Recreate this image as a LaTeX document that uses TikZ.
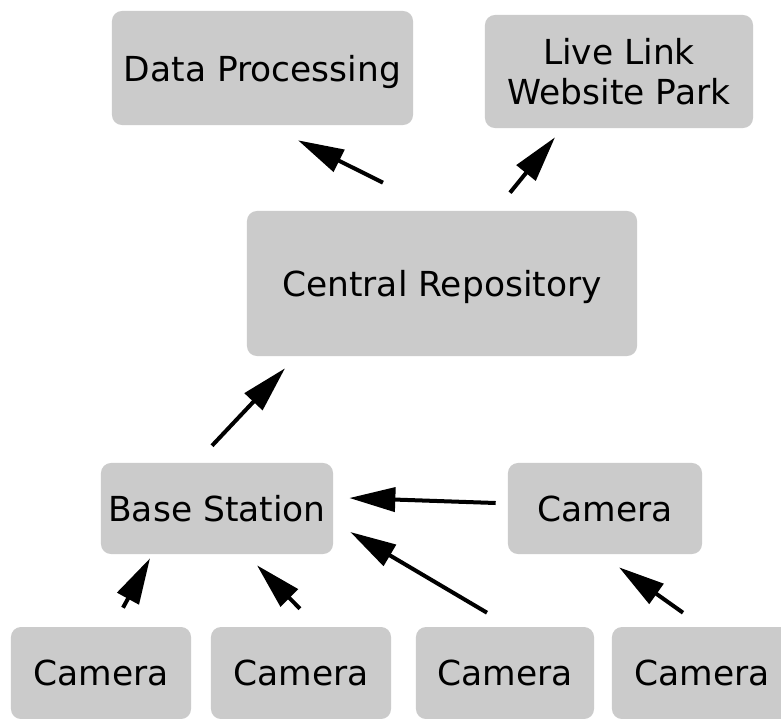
\documentclass[tikz,border=0pt]{standalone}
\usepackage{fontspec}
\setmainfont{DejaVu Sans}
\usepackage{tikz}
\usetikzlibrary{calc,positioning,arrows.meta}
\definecolor{boxgray}{HTML}{CBCBCB}
\tikzset{
	punkt/.style={
		rectangle,
		rounded corners=0.25cm,
		fill=boxgray,
		draw=none,
		minimum height=2.275cm,
		align=center,
		inner sep=0pt,
		text depth=0pt,
		font=\fontsize{24.5}{28.5}\selectfont},
	line/.style={draw, line width=0.1cm, -{Triangle[length=1.15cm,width=0.6cm]}},
}

\begin{document}
\begin{tikzpicture}
			[x=0.025cm, y=-0.025cm]
			\useasboundingbox (0,0) rectangle (781,718);
			% top row
			\node[punkt, minimum width=7.525cm, minimum height=2.85cm] (data) at (262.5,68) {Data Processing};
			\node[punkt, text depth=, minimum width=6.7cm, minimum height=2.825cm] (live) at (619,71.5) {Live Link\\Website Park};
			\node[punkt, minimum width=9.75cm, minimum height=3.625cm] (repo) at (442,283.5) {Central Repository};
			% stations
			\node[punkt, minimum width=5.8cm] (base) at (217,508.5) {Base Station};
			\node[punkt, minimum width=4.85cm] (camr) at (605,508.5) {Camera};
			% bottom row
			\node[punkt, minimum width=4.5cm, minimum height=2.3cm] (cam1) at (101,673) {Camera};
			\node[punkt, minimum width=4.5cm, minimum height=2.3cm] (cam2) at (301,673) {Camera};
			\node[punkt, minimum width=4.45cm, minimum height=2.3cm] (cam3) at (505,673) {Camera};
			\node[punkt, minimum width=4.5cm, minimum height=2.3cm] (cam4) at (702,673) {Camera};
			
			\draw[line] ($(repo.north)+(-59,-28)$) -- ($(data.south)+(35.5,15)$);
			\draw[line] ($(repo.north)+(68,-18)$) -- ($(live.south)+(-64,9)$);
			\draw[line] ($(base.north)+(-5,-17)$) -- ($(repo.south)+(-157,12)$);
			\draw[line] ($(camr.west)+(-12,-5.5)$) -- ($(base.east)+(16,-10.5)$);
			\draw[line] ($(cam3.north)+(-18,-14)$) -- ($(base.east)+(17,23.5)$);
			\draw[line] ($(cam1.north)+(22,-19)$) -- ($(base.south)+(-67,4)$);
			\draw[line] ($(cam2.north)+(-1,-18)$) -- ($(base.south)+(40,11)$);
			\draw[line] ($(cam4.north)+(-19,-14)$) -- ($(camr.south)+(14,13)$);
			
			\end{tikzpicture}
\end{document}
